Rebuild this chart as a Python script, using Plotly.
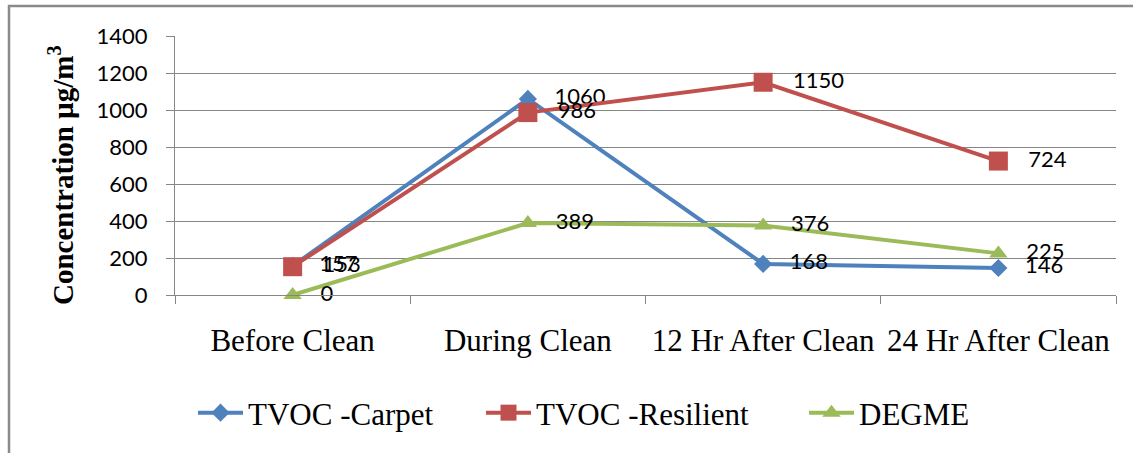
import plotly.graph_objects as go

categories = ["Before Clean", "During Clean", "12 Hr After Clean", "24 Hr After Clean"]
tvoc_carpet = [157, 1060, 168, 146]
tvoc_resilient = [153, 986, 1150, 724]
degme = [0, 389, 376, 225]

W, H = 1133, 453
L, R, T, B = 175, 17, 36, 158
pw, ph = W - L - R, H - T - B

def px_x(x):
    return (x - L) / pw

def px_y(y):
    return (H - B - y) / ph

series = [
    ("TVOC -Carpet", tvoc_carpet, "#4F81BD", "diamond", 14, "legend"),
    ("TVOC -Resilient", tvoc_resilient, "#C0504D", "square", 19, "legend2"),
    ("DEGME", degme, "#9BBB59", "triangle-up", 16, "legend3"),
]

PAD = "\u00a0\u00a0\u00a0"

fig = go.Figure()
for name, vals, color, sym, msize, leg in series:
    fig.add_trace(go.Scatter(
        x=categories, y=vals, name=name, mode="lines+markers+text",
        line=dict(color=color, width=4),
        marker=dict(symbol=sym, size=msize, color=color),
        text=[PAD + str(v) for v in vals], textposition="middle right",
        textfont=dict(family="Lato", size=22, color="#000000"),
        legend=leg, cliponaxis=False,
    ))

leg_font = dict(family="Liberation Serif", size=31, color="#000000")
legend_common = dict(orientation="h", yanchor="middle", xanchor="left",
                     font=leg_font, bgcolor="rgba(0,0,0,0)", borderwidth=0,
                     y=px_y(413), itemwidth=45)

fig.update_layout(
    width=W, height=H,
    margin=dict(l=L, r=R, t=T, b=B, autoexpand=False),
    paper_bgcolor="white", plot_bgcolor="white",
    showlegend=True,
    legend=dict(x=px_x(193), **legend_common),
    legend2=dict(x=px_x(481), **legend_common),
    legend3=dict(x=px_x(804), **legend_common),
    xaxis=dict(
        type="category", range=[-0.5, 3.5], tickson="boundaries",
        ticks="outside", ticklen=8, tickcolor="#868686", tickwidth=1,
        showgrid=False, showline=True, linecolor="#868686", linewidth=1,
        tickfont=dict(family="Liberation Serif", size=31, color="#000000"),
        ticklabelstandoff=18,
    ),
    yaxis=dict(
        range=[0, 1400], dtick=200, tick0=0,
        ticks="outside", ticklen=8, tickcolor="#868686", tickwidth=1,
        showgrid=True, gridcolor="#868686", gridwidth=1,
        showline=True, linecolor="#868686", linewidth=1,
        zeroline=False,
        tickfont=dict(family="Lato", size=22, color="#000000"),
        ticklabelstandoff=14,
    ),
    annotations=[dict(
        text="Concentration µg/m<sup>3</sup>", textangle=-90,
        xref="paper", yref="paper", x=px_x(61), y=px_y(175),
        xanchor="center", yanchor="middle", showarrow=False,
        font=dict(family="Liberation Serif", size=29, color="#000000", weight="bold"),
    )],
    shapes=[dict(
        type="rect", xref="paper", yref="paper",
        x0=px_x(9), y0=px_y(6), x1=px_x(1150), y1=px_y(470),
        line=dict(color="#8a8a8a", width=2.5), fillcolor="rgba(0,0,0,0)", layer="below",
    )],
)

fig.write_html("out.html", config={"displayModeBar": False},
               post_script="document.body.style.margin='0';document.body.style.padding='0';")
